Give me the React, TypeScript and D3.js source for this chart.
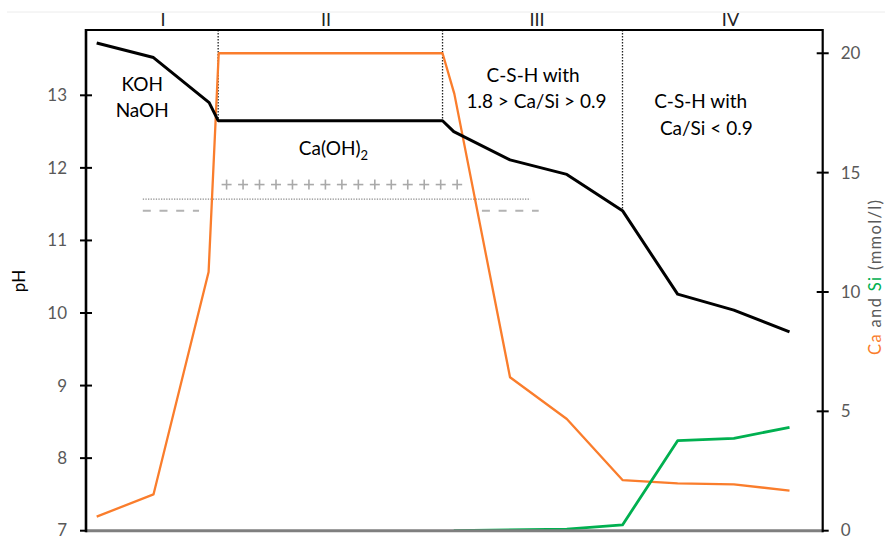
import React from "react";
import * as d3 from "d3";

// ---- data ----
const phX = [0.19, 1.2, 2.19, 2.35, 6.34, 6.54, 7.54, 8.55, 9.54, 10.52, 11.52, 12.51];
const phY = [13.72, 13.52, 12.9, 12.65, 12.65, 12.5, 12.11, 11.91, 11.41, 10.26, 10.04, 9.74];

const caX = [0.19, 1.2, 2.18, 2.36, 6.34, 6.55, 7.54, 8.55, 9.54, 10.52, 11.52, 12.51];
const caY = [0.59, 1.52, 10.84, 20.0, 20.0, 18.3, 6.43, 4.68, 2.12, 1.98, 1.94, 1.68];

const siX = [6.54, 8.55, 9.54, 10.52, 11.52, 12.51];
const siY = [0.0, 0.07, 0.24, 3.77, 3.87, 4.33];

const phTicks = [7, 8, 9, 10, 11, 12, 13];
const concTicks = [0, 5, 10, 15, 20];

const boundaryX = [2.35, 6.34, 9.54];
const boundaryPh = [12.65, 12.65, 11.41];

const regionLabels = ["I", "II", "III", "IV"];
const regionLabelX = [1.37, 4.27, 8.02, 11.46];

const annotTexts = ["KOH", "NaOH", "C-S-H with", "1.8 > Ca/Si > 0.9", "C-S-H with", "Ca/Si < 0.9"];
const annotX = [1.0, 1.0, 7.95, 8.01, 10.93, 11.03];
const annotPh = [13.06, 12.7, 13.18, 12.82, 12.83, 12.45];

const plusRange = [2.5, 6.6];
const plusCount = 15;
const plusPh = 11.77;
const dottedRange = [1.01, 7.9];
const dottedPh = 11.57;
const dashRanges = [[1.01, 2.01], [7.04, 8.05]];
const dashPh = 11.41;

const ORANGE = "#fa7d2c";
const GREEN = "#00b050";
const GRAY_TXT = "#595959";
const FONT = "Lato, 'Open Sans', sans-serif";

export default function App() {
  const W = 885, H = 539;
  const left = 86, right = 822.7, top = 30, bottom = 530.7;
  const x = d3.scaleLinear().domain([0, 13.1]).range([left, right]);
  const yPh = d3.scaleLinear().domain([7, 13.9]).range([bottom, top]);
  const yC = d3.scaleLinear().domain([0, 21]).range([bottom, top - 0.6]);

  const phLine = d3.line<number>().x((_, i) => x(phX[i])).y((d) => yPh(d));
  const caLine = d3.line<number>().x((_, i) => x(caX[i])).y((d) => yC(d));
  const siLine = d3.line<number>().x((_, i) => x(siX[i])).y((d) => yC(d));

  const plusPositions = d3.range(plusCount).map(
    (i) => plusRange[0] + ((plusRange[1] - plusRange[0]) * i) / (plusCount - 1)
  );

  return (
    <svg width={W} height={H} style={{ position: "absolute", left: 0, top: 0, background: "#fff" }}>
      <rect x={0} y={0} width={W} height={H} fill="#fff" />
      <line x1={7} x2={W} y1={12} y2={12} stroke="#ececec" strokeWidth={1} />

      {/* gray annotations */}
      {plusPositions.map((p, i) => (
        <g key={"p" + i} stroke="#a9a9a9" strokeWidth={1.6}>
          <line x1={x(p) - 5} x2={x(p) + 5} y1={yPh(plusPh)} y2={yPh(plusPh)} />
          <line x1={x(p)} x2={x(p)} y1={yPh(plusPh) - 5} y2={yPh(plusPh) + 5} />
        </g>
      ))}
      <line x1={x(dottedRange[0])} x2={x(dottedRange[1])} y1={yPh(dottedPh)} y2={yPh(dottedPh)}
        stroke="#8c8c8c" strokeWidth={1.2} strokeDasharray="1.3 1.3" />
      {dashRanges.map((r, i) => (
        <line key={"d" + i} x1={x(r[0])} x2={x(r[1])} y1={yPh(dashPh)} y2={yPh(dashPh)}
          stroke="#b3b3b3" strokeWidth={2} strokeDasharray="8 8.7" />
      ))}

      {/* boundaries */}
      {boundaryX.map((b, i) => (
        <line key={"b" + i} x1={x(b)} x2={x(b)} y1={top} y2={yPh(boundaryPh[i])}
          stroke="#222" strokeWidth={1.3} strokeDasharray="1.5 1.5" />
      ))}

      {/* lines */}
      <path d={caLine(caY) || ""} fill="none" stroke={ORANGE} strokeWidth={2.3} strokeLinejoin="round" />
      <path d={siLine(siY) || ""} fill="none" stroke={GREEN} strokeWidth={2.8} strokeLinejoin="round" />
      <path d={phLine(phY) || ""} fill="none" stroke="#000" strokeWidth={3} strokeLinejoin="round" />

      {/* frame */}
      <line x1={left} x2={right} y1={bottom} y2={bottom} stroke="#7f7f7f" strokeWidth={3} />
      <line x1={left} x2={right} y1={top} y2={top} stroke="#000" strokeWidth={2.2} />
      <line x1={left} x2={left} y1={top - 1} y2={bottom + 1.5} stroke="#000" strokeWidth={2.6} />
      <line x1={right} x2={right} y1={top - 1} y2={bottom + 1.5} stroke="#000" strokeWidth={2.2} />

      {/* left axis ticks */}
      {phTicks.map((t) => (
        <g key={"lt" + t}>
          <line x1={left - 6} x2={t === 7 ? left : left + 6} y1={yPh(t)} y2={yPh(t)} stroke="#000" strokeWidth={2} />
          <text x={left - 19} y={yPh(t)} dy={t === 7 ? "0.3em" : "0.35em"} textAnchor="end" fontFamily={FONT} fontSize={17} fill={GRAY_TXT}>{t}</text>
        </g>
      ))}
      {concTicks.map((t) => (
        <g key={"rt" + t}>
          <line x1={t === 0 ? right : right - 6} x2={right + 6} y1={yC(t)} y2={yC(t)} stroke="#000" strokeWidth={2} />
          <text x={right + 18} y={yC(t)} dy={t === 0 ? "0.3em" : "0.35em"} textAnchor="start" fontFamily={FONT} fontSize={17} fill={GRAY_TXT}>{t}</text>
        </g>
      ))}

      {/* axis titles */}
      <text transform={`translate(25,281) rotate(-90)`} textAnchor="middle" fontFamily={FONT} fontSize={17} fill="#000">pH</text>
      <text transform={`translate(881,277.5) rotate(-90)`} textAnchor="middle" fontFamily={FONT} fontSize={16.5}
        textLength={155} lengthAdjust="spacing">
        <tspan fill={ORANGE}>Ca</tspan>
        <tspan fill={GRAY_TXT}> and </tspan>
        <tspan fill={GREEN}>Si</tspan>
        <tspan fill={GRAY_TXT}> (mmol/l)</tspan>
      </text>

      {/* region labels */}
      {regionLabels.map((r, i) => (
        <text key={"r" + i} x={x(regionLabelX[i])} y={26} textAnchor="middle" fontFamily={FONT} fontSize={18} fill="#222">{r}</text>
      ))}

      {/* annotations */}
      {annotTexts.map((t, i) => (
        <text key={"a" + i} x={x(annotX[i])} y={yPh(annotPh[i])} textAnchor="middle" fontFamily={FONT} fontSize={19} fill="#000">{t}</text>
      ))}
      <text x={x(4.4)} y={yPh(12.18)} textAnchor="middle" fontFamily={FONT} fontSize={19} fill="#000">
        Ca(OH)<tspan fontSize={13} dy={5}>2</tspan>
      </text>
    </svg>
  );
}
